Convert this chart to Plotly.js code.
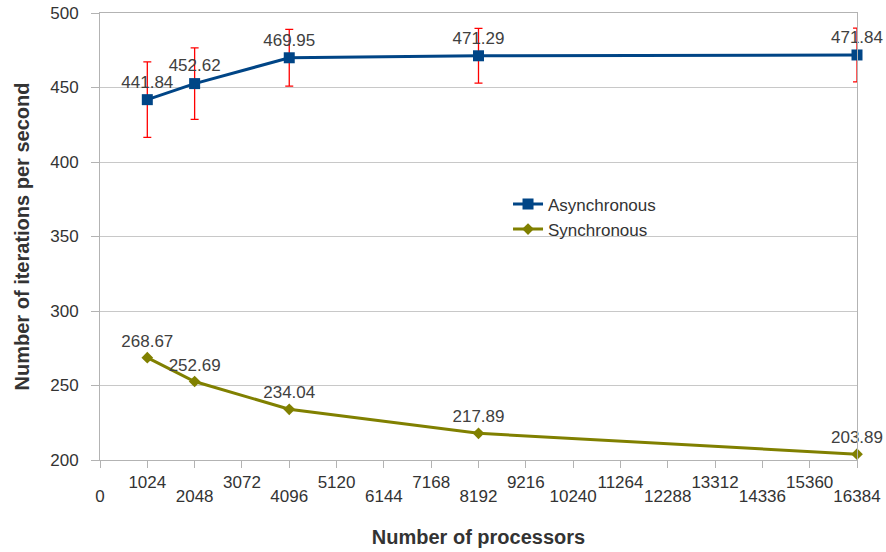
<!DOCTYPE html>
<html>
<head>
<meta charset="utf-8">
<script src="https://cdn.plot.ly/plotly-3.0.1.min.js"></script>
<style>html,body{margin:0;padding:0;background:#fff;}#chart{width:886px;height:552px;}</style>
</head>
<body>
<div id="chart"></div>
<script>
const processors = [1024, 2048, 4096, 8192, 16384];
const asyncValues = [441.84, 452.62, 469.95, 471.29, 471.84];
const asyncErrors = [25.3, 24.0, 19.0, 18.4, 18.0];
const syncValues = [268.67, 252.69, 234.04, 217.89, 203.89];
const syncErrors = [0.3, 0.3, 0.3, 0.3, 0.3];
const xTickValuesUpper = [1024, 3072, 5120, 7168, 9216, 11264, 13312, 15360];
const xTickValuesLower = [0, 2048, 4096, 6144, 8192, 10240, 12288, 14336, 16384];
const yTickValues = [200, 250, 300, 350, 400, 450, 500];
const xRange = [0, 16384];
const yRange = [200, 500];

const fontFam = '"Liberation Sans", Arial, sans-serif';
const traces = [
  {
    x: processors, y: asyncValues, name: 'Asynchronous', type: 'scatter', mode: 'lines+markers+text',
    xaxis: 'x', yaxis: 'y',
    line: {color: '#004586', width: 3},
    marker: {symbol: 'square', size: 11, color: '#004586'},
    text: asyncValues.map(v => v.toFixed(2)), textposition: 'top center',
    textfont: {family: fontFam, size: 17, color: '#404040'},
    error_y: {type: 'data', array: asyncErrors, visible: true, color: '#ff0000', thickness: 1.3, width: 4},
    cliponaxis: false
  },
  {
    x: processors, y: syncValues, name: 'Synchronous', type: 'scatter', mode: 'lines+markers+text',
    xaxis: 'x2', yaxis: 'y',
    line: {color: '#808000', width: 3},
    marker: {symbol: 'diamond', size: 9, color: '#808000'},
    text: syncValues.map(v => v.toFixed(2)), textposition: 'top center',
    textfont: {family: fontFam, size: 17, color: '#404040'},
    error_y: {type: 'data', array: syncErrors, visible: true, color: '#ff0000', thickness: 2, width: 4},
    cliponaxis: false
  }
];

const layout = {
  width: 886, height: 552,
  margin: {l: 100, r: 29, t: 13, b: 92},
  paper_bgcolor: '#ffffff', plot_bgcolor: '#ffffff',
  font: {family: fontFam, size: 17, color: '#333333'},
  showlegend: true,
  legend: {x: 0.539, y: 0.612, xanchor: 'left', yanchor: 'top', bgcolor: 'rgba(0,0,0,0)',
           font: {family: fontFam, size: 17, color: '#333333'}, tracegroupgap: 0},
  xaxis: {
    range: xRange, tickmode: 'array', tickvals: xTickValuesUpper, ticktext: xTickValuesUpper.map(String), tickangle: 0,
    showgrid: false, zeroline: false, showline: true, linecolor: '#b3b3b3', linewidth: 1, mirror: true,
    ticks: 'outside', ticklen: 7, tickcolor: '#b3b3b3', ticklabeloverflow: 'allow',
    tickfont: {family: fontFam, size: 17, color: '#333333'}
  },
  xaxis2: {
    range: xRange, overlaying: 'x', anchor: 'y', side: 'bottom',
    tickmode: 'array', tickvals: xTickValuesLower, ticktext: xTickValuesLower.map(String), tickangle: 0,
    showgrid: false, zeroline: false, showline: false, ticklabeloverflow: 'allow',
    ticks: 'outside', ticklen: 7, tickcolor: '#b3b3b3', ticklabelstandoff: 14,
    tickfont: {family: fontFam, size: 17, color: '#333333'},
    title: {text: 'Number of processors', font: {family: fontFam, size: 20, color: '#333333', weight: 'bold'}, standoff: 24}
  },
  yaxis: {
    range: yRange, tickmode: 'array', tickvals: yTickValues,
    showgrid: true, gridcolor: '#c8c8c8', zeroline: false, showline: true, linecolor: '#b3b3b3', linewidth: 1, mirror: true,
    ticks: 'outside', ticklen: 8, tickcolor: '#b3b3b3', ticklabelstandoff: 9,
    tickfont: {family: fontFam, size: 17, color: '#333333'},
    title: {text: 'Number of iterations per second', font: {family: fontFam, size: 20, color: '#333333', weight: 'bold'}, standoff: 15}
  }
};

Plotly.newPlot('chart', traces, layout, {displayModeBar: false, staticPlot: true});
</script>
</body>
</html>
